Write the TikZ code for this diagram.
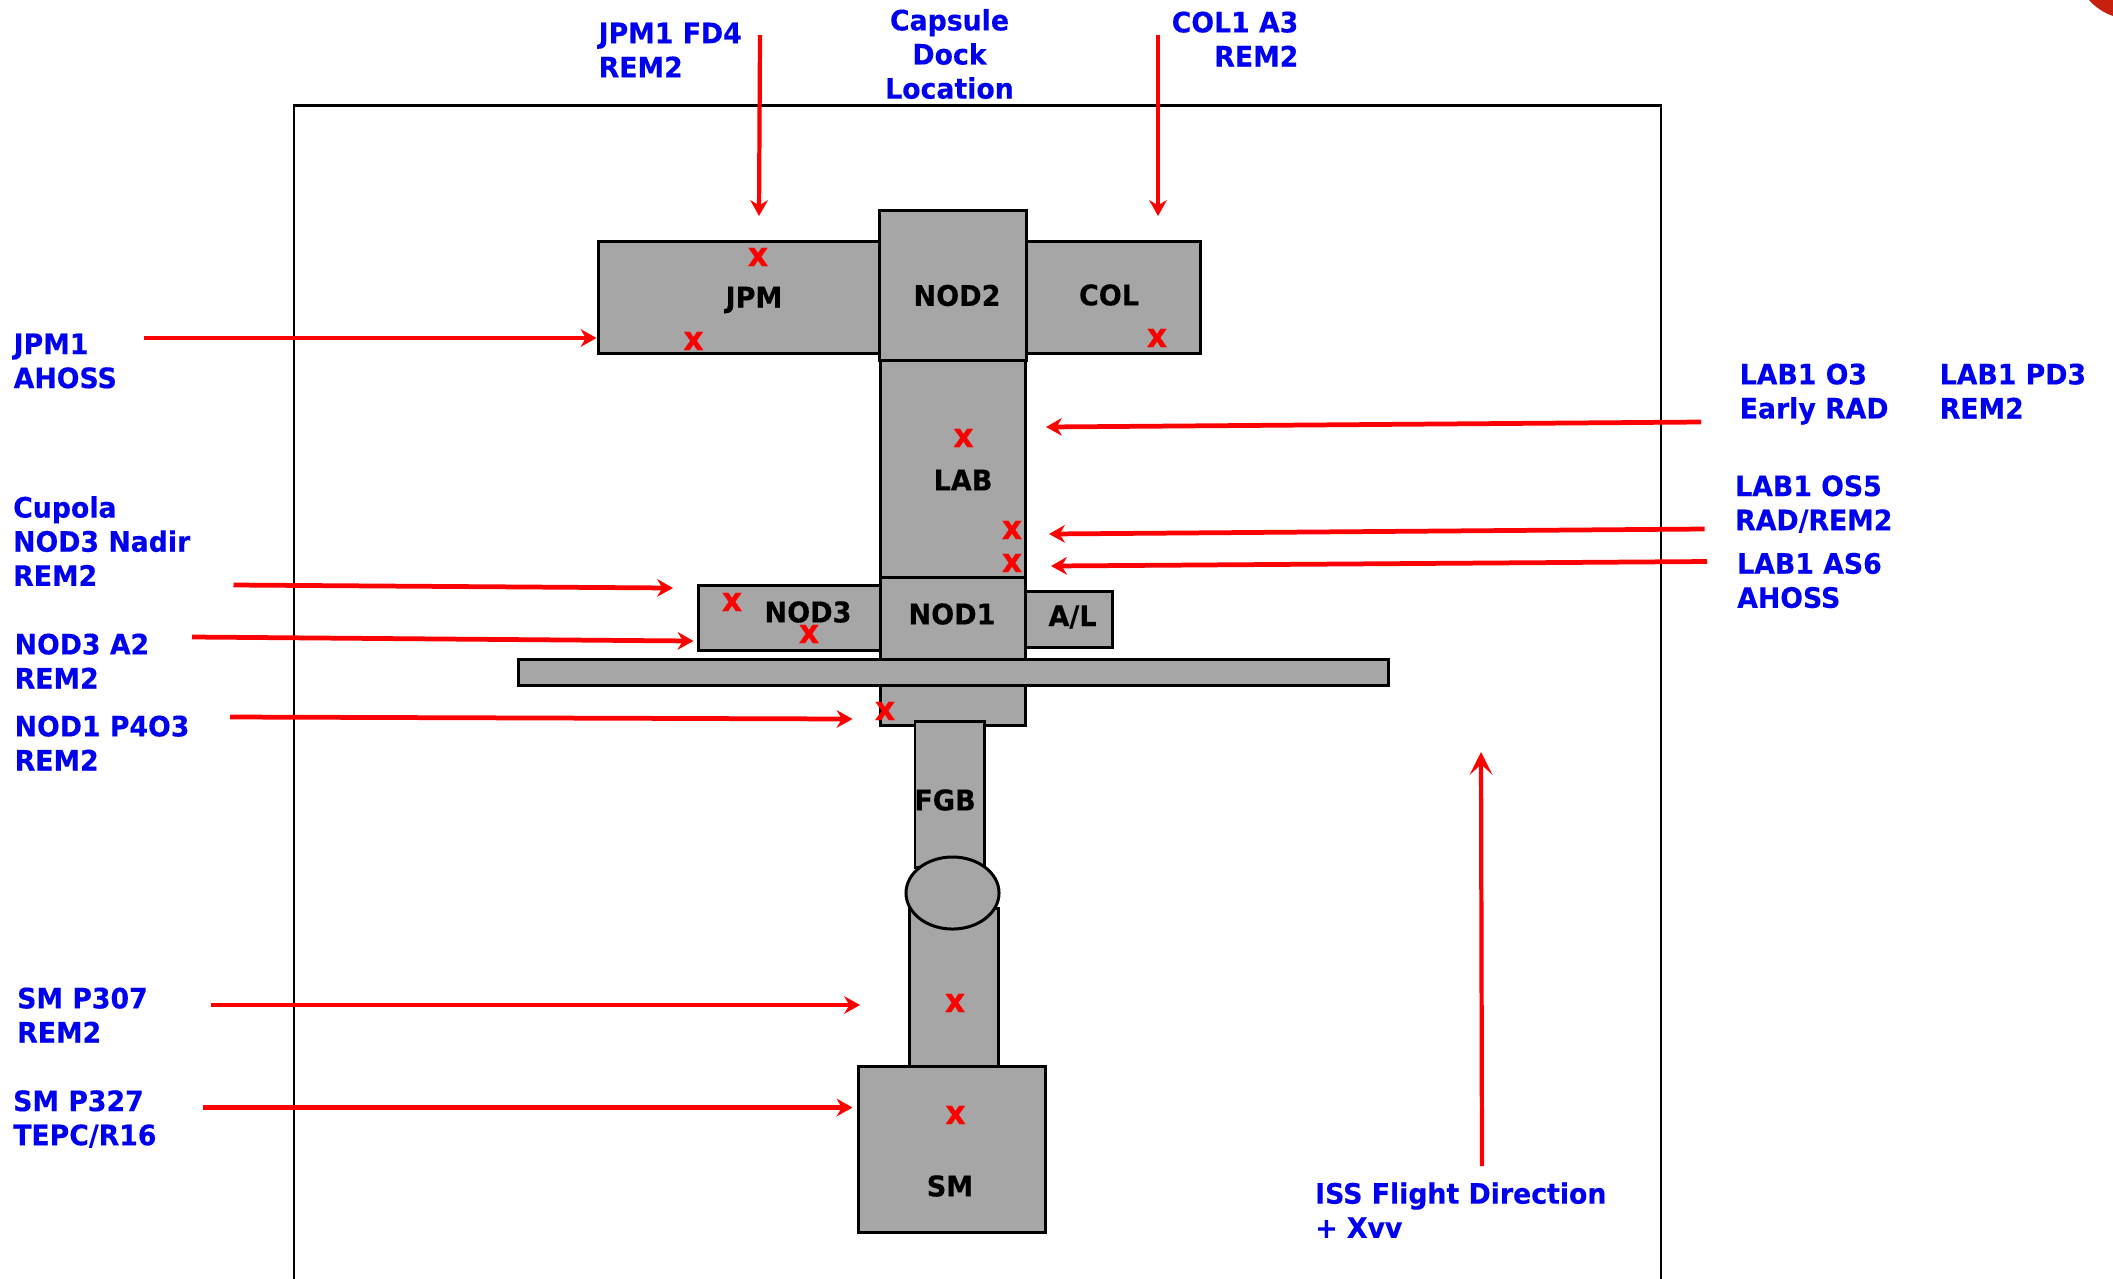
\documentclass[tikz,border=0pt]{standalone}
\usepackage{fontspec}
\usepackage{xcolor}
\usetikzlibrary{arrows.meta,positioning,shapes.geometric}
\setmainfont{DejaVu Sans}[BoldFeatures={FakeStretch=0.95,FakeBold=0.35}]
\definecolor{modulegray}{HTML}{A6A6A6}
\definecolor{labelblue}{HTML}{0000F0}
\definecolor{markred}{HTML}{FF0000}
\definecolor{cornerred}{HTML}{C8200F}
\tikzset{
  modulebox/.style={
    rectangle, draw=black, fill=modulegray, line width=0.85pt,
    inner sep=0pt, outer sep=0pt
  },
  modulename/.style={
    font=\fontsize{8.1}{9.7}\selectfont\bfseries, color=black, inner sep=0pt
  },
  spotmark/.style={
    font=\fontsize{9.5}{9.7}\selectfont\bfseries, color=markred, inner sep=0pt
  },
  bluelabel/.style={
    font=\fontsize{8}{9.7}\selectfont\bfseries, color=labelblue,
    align=#1, inner sep=0pt
  },
  bluelabel/.default=left,
  redarrow/.style={
    -{Stealth[length=4.5pt,width=5pt]}, line width=1.35pt, color=markred
  },
}
\begin{document}
\begin{tikzpicture}[x=0.01cm,y=-0.01cm]
  \useasboundingbox (0,0) rectangle (2113,1278);
  % Outer frame, open at the bottom
  \draw[black, line width=0.7pt] (294,1290) -- (294,105.5) -- (1661,105.5) -- (1661,1290);
  % Corner fragment
  \fill[cornerred] (2089,0) .. controls (2095,7) and (2104,13) .. (2113,16) -- (2113,0) -- cycle;

  % Upper modules
  \node[modulebox, minimum width=1.46cm, minimum height=1.49cm] (nod2) at (953,285.5) {};
  \node[modulebox, minimum width=2.81cm, minimum height=1.11cm, left=0cm of nod2, yshift=-0.12cm] (jpm) {};
  \node[modulebox, minimum width=1.74cm, minimum height=1.11cm, right=0cm of nod2, yshift=-0.12cm] (col) {};
  \node[modulebox, minimum width=1.45cm, minimum height=2.17cm, below=0cm of nod2] (lab) {};
  \node[modulebox, minimum width=1.44cm, minimum height=1.48cm, below=0cm of lab] (nod1) {};
  \node[modulebox, minimum width=1.82cm, minimum height=0.645cm, left=0cm of nod1, yshift=0.33cm] (nod3) {};
  \node[modulebox, minimum width=0.87cm, minimum height=0.56cm, right=0cm of nod1, yshift=0.32cm] (al) {};
  \node[modulebox, minimum width=8.69cm, minimum height=0.255cm] (truss) at (953.5,672.5) {};

  % Lower modules
  \node[modulebox, minimum width=0.69cm, minimum height=1.45cm] (fgb) at (949.5,794.5) {};
  \node[modulebox, minimum width=1.86cm, minimum height=1.65cm] (sm) at (952,1149.5) {};
  \node[modulebox, minimum width=0.88cm, minimum height=1.585cm, above=0cm of sm, xshift=0.02cm] (neck) {};
  \node[modulebox, shape=ellipse, minimum width=0.93cm, minimum height=0.72cm] (joint) at (952.5,893) {};

  % Module names
  \node[modulename] (jpmname) at (754,300) {JPM};
  \node[modulename] (nod2name) at (957,295.5) {NOD2};
  \node[modulename] (colname) at (1109,295) {COL};
  \node[modulename] (labname) at (963,480) {LAB};
  \node[modulename] (nod3name) at (808,612) {NOD3};
  \node[modulename] (nod1name) at (952,614) {NOD1};
  \node[modulename] (alname) at (1072.5,617) {A/L};
  \node[modulename] (fgbname) at (945,800) {FGB};
  \node[modulename] (smname) at (950,1186) {SM};

  % Measurement spots
  \node[spotmark] (spotjpma) at (758,257) {x};
  \node[spotmark] (spotjpmb) at (693.5,341) {x};
  \node[spotmark] (spotcol) at (1157,338) {x};
  \node[spotmark] (spotlaba) at (963.5,438) {x};
  \node[spotmark] (spotlabb) at (1012,530) {x};
  \node[spotmark] (spotlabc) at (1012,563) {x};
  \node[spotmark] (spotnodc) at (732,602) {x};
  \node[spotmark] (spotnodd) at (809,634) {x};
  \node[spotmark] (spotnode) at (885,711) {x};
  \node[spotmark] (spotneck) at (955,1003) {x};
  \node[spotmark] (spotsm) at (955.5,1115) {x};

  % Top labels
  \node[bluelabel, anchor=west] (lbljpmfd) at (598,50) {JPM1 FD4\\REM2};
  \node[bluelabel=center] (lblcapsule) at (949.5,54) {Capsule\\Dock\\Location};
  \node[bluelabel=right, anchor=east] (lblcol) at (1299,39) {COL1 A3\\REM2};

  % Left labels
  \node[bluelabel, anchor=west] (lbljpmah) at (13,361) {JPM1\\AHOSS};
  \node[bluelabel, anchor=west] (lblcupola) at (12.5,541) {Cupola\\NOD3 Nadir\\REM2};
  \node[bluelabel, anchor=west] (lblnod3) at (14,661) {NOD3 A2\\REM2};
  \node[bluelabel, anchor=west] (lblnod1) at (14,743) {NOD1 P4O3\\REM2};
  \node[bluelabel, anchor=west] (lblsma) at (16.5,1015) {SM P307\\REM2};
  \node[bluelabel, anchor=west] (lblsmb) at (12.5,1119) {SM P327\\TEPC/R16};

  % Right labels
  \node[bluelabel, anchor=west] (lbllabo) at (1739,394) {LAB1 O3\\Early RAD};
  \node[bluelabel, anchor=west] (lbllabpd) at (1939,391) {LAB1 PD3\\REM2};
  \node[bluelabel, anchor=west] (lbllabos) at (1734.5,504) {LAB1 OS5\\RAD/REM2};
  \node[bluelabel, anchor=west] (lbllabas) at (1736.5,580.5) {LAB1 AS6\\AHOSS};
  \node[bluelabel, anchor=west] (lbliss) at (1314.5,1210) {ISS Flight Direction\\+ Xvv};

  % Arrow ends
  \coordinate (jpmfdtail) at (760,35);
  \coordinate (jpmfdtip) at (759,216);
  \coordinate (coltail) at (1158,35);
  \coordinate (coltip) at (1158,216);
  \coordinate (jpmahtail) at (143.5,338);
  \coordinate (jpmahtip) at (596.5,338);
  \coordinate (cupolatail) at (233.5,585);
  \coordinate (cupolatip) at (673,588);
  \coordinate (nod3tail) at (192,637);
  \coordinate (nod3tip) at (693.5,641);
  \coordinate (nod1tail) at (230,717);
  \coordinate (nod1tip) at (852.5,719);
  \coordinate (smatail) at (211,1005);
  \coordinate (smatip) at (860,1005);
  \coordinate (smbtail) at (203,1107.5);
  \coordinate (smbtip) at (852.5,1107.5);
  \coordinate (labotail) at (1701,422);
  \coordinate (labotip) at (1046,427);
  \coordinate (labostail) at (1704.5,529);
  \coordinate (labostip) at (1049,534);
  \coordinate (labastail) at (1707,561.5);
  \coordinate (labastip) at (1051,566);
  \coordinate (isstail) at (1482,1166);
  \coordinate (isstip) at (1481,752);

  % Arrows
  \draw[redarrow, line width=1.2pt] (jpmfdtail) -- (jpmfdtip);
  \draw[redarrow, line width=1.2pt] (coltail) -- (coltip);
  \draw[redarrow] (jpmahtail) -- (jpmahtip);
  \draw[redarrow] (cupolatail) -- (cupolatip);
  \draw[redarrow] (nod3tail) -- (nod3tip);
  \draw[redarrow] (nod1tail) -- (nod1tip);
  \draw[redarrow] (smatail) -- (smatip);
  \draw[redarrow] (smbtail) -- (smbtip);
  \draw[redarrow] (labotail) -- (labotip);
  \draw[redarrow] (labostail) -- (labostip);
  \draw[redarrow] (labastail) -- (labastip);
  \draw[redarrow, line width=1.2pt, -{Stealth[length=6.5pt,width=6.5pt,inset=3pt]}] (isstail) -- (isstip);
\end{tikzpicture}
\end{document}
